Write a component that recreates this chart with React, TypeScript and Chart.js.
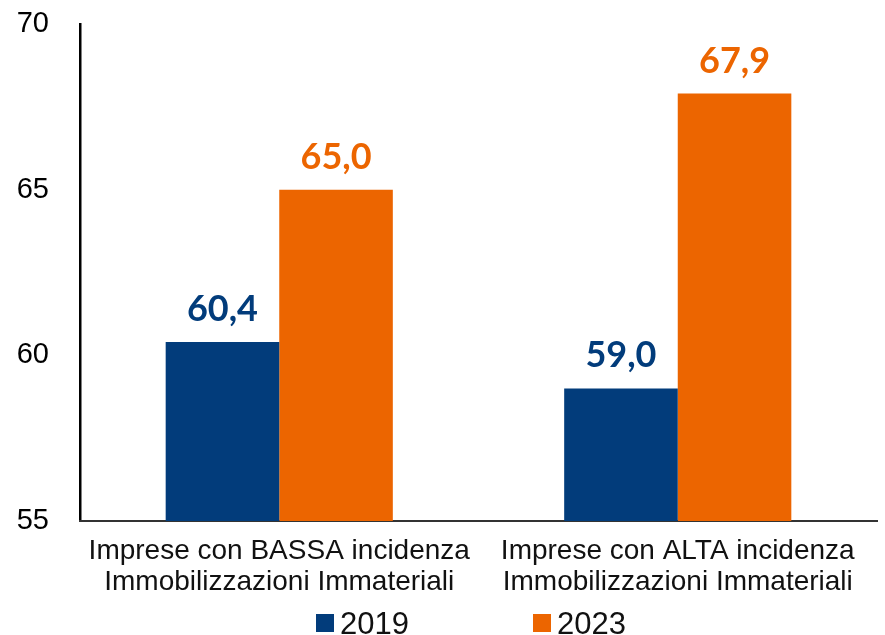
import React, { useEffect, useRef } from "react";
import { Chart, registerables } from "chart.js";

Chart.register(...registerables);

const categories = [
  ["Imprese con BASSA incidenza", "Immobilizzazioni Immateriali"],
  ["Imprese con ALTA incidenza", "Immobilizzazioni Immateriali"],
];
const seriesNames = ["2019", "2023"];
const values2019 = [60.4, 59.0];
const values2023 = [65.0, 67.9];
const yTicks = [55, 60, 65, 70];
const seriesColors = ["#023C7B", "#EC6500"];

const valueLabels = {
  id: "valueLabels",
  afterDatasetsDraw(chart: any) {
    const ctx = chart.ctx;
    chart.data.datasets.forEach((ds: any, i: number) => {
      const meta = chart.getDatasetMeta(i);
      meta.data.forEach((bar: any, j: number) => {
        const v = ds.data[j] as number;
        ctx.save();
        ctx.font = 'bold 36px Lato, "Liberation Sans", sans-serif';
        ctx.fillStyle = ds.backgroundColor;
        ctx.textAlign = "center";
        ctx.textBaseline = "alphabetic";
        ctx.fillText(v.toFixed(1).replace(".", ","), bar.x, bar.y - 21);
        ctx.restore();
      });
    });
  },
};

const customLegend = {
  id: "customLegend",
  afterDraw(chart: any) {
    const ctx = chart.ctx;
    const area = chart.chartArea;
    const center = (area.left + area.right) / 2;
    const spacing = 217;
    const start = center - 162.5;
    const boxSize = 18;
    const boxTop = 614;
    chart.data.datasets.forEach((ds: any, i: number) => {
      const x = start + i * spacing;
      ctx.save();
      ctx.fillStyle = ds.backgroundColor;
      ctx.fillRect(x, boxTop, boxSize, boxSize);
      ctx.fillStyle = "#111111";
      ctx.font = '31px "Liberation Sans", Arial, sans-serif';
      ctx.textAlign = "left";
      ctx.textBaseline = "alphabetic";
      ctx.fillText(ds.label, x + boxSize + 6, 634);
      ctx.restore();
    });
  },
};

export default function App() {
  const canvasRef = useRef<HTMLCanvasElement | null>(null);

  useEffect(() => {
    if (!canvasRef.current) return;
    const chart = new Chart(canvasRef.current, {
      type: "bar",
      data: {
        labels: categories,
        datasets: [
          {
            label: seriesNames[0],
            data: values2019,
            backgroundColor: seriesColors[0],
            barPercentage: 1,
            categoryPercentage: 0.57,
          },
          {
            label: seriesNames[1],
            data: values2023,
            backgroundColor: seriesColors[1],
            barPercentage: 1,
            categoryPercentage: 0.57,
          },
        ],
      },
      options: {
        responsive: false,
        animation: false,
        layout: { padding: { top: 24, right: 8, left: 0, bottom: 0 } },
        plugins: {
          legend: { display: false },
          tooltip: { enabled: false },
          title: { display: false },
        },
        scales: {
          y: {
            min: 55,
            max: 70,
            afterBuildTicks: (scale: any) => {
              scale.ticks = yTicks.map((v) => ({ value: v }));
            },
            afterFit: (scale: any) => {
              scale.width = 80;
              scale.paddingTop = 0;
              scale.paddingBottom = 0;
            },
            grid: { display: false, drawTicks: false },
            border: { display: true, color: "#000000", width: 2.5 },
            ticks: {
              padding: 31,
              color: "#000000",
              font: { family: '"Liberation Sans", Arial, sans-serif', size: 29 },
            },
          },
          x: {
            afterFit: (scale: any) => {
              scale.height = 114;
            },
            grid: { display: false, drawTicks: false },
            border: { display: true, color: "#333333", width: 2 },
            ticks: {
              padding: 15,
              color: "#111111",
              maxRotation: 0,
              autoSkip: false,
              font: {
                family: '"Liberation Sans", Arial, sans-serif',
                size: 28,
                lineHeight: 1.1,
              },
            },
          },
        },
      },
      plugins: [valueLabels, customLegend],
    });
    return () => chart.destroy();
  }, []);

  return (
    <div style={{ position: "fixed", left: 0, top: 0, width: 885, height: 635, background: "#ffffff" }}>
      <canvas ref={canvasRef} width={885} height={635} />
    </div>
  );
}
